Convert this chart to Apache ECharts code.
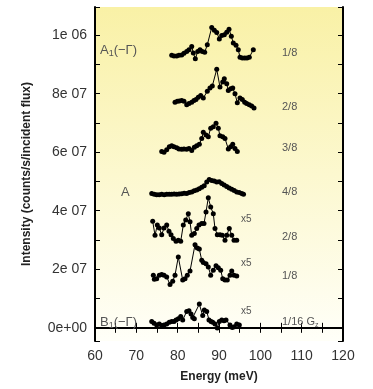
<!DOCTYPE html>
<html>
<head>
<meta charset="utf-8">
<script src="https://cdn.jsdelivr.net/npm/echarts@6/dist/echarts.min.js"></script>
<style>
  html, body { margin: 0; padding: 0; background: #ffffff; }
  #chart { width: 373px; height: 389px; }
</style>
</head>
<body>
<div id="chart"></div>
<script>
// energies in meV, intensities in units of 1e7 counts/s/incident flux
const energy1 = [78.56, 79.11, 79.77, 80.32, 80.98, 81.53, 82.19, 82.74, 83.40, 83.78, 84.27, 84.85, 85.41, 85.96, 86.54, 87.17, 88.24, 88.87, 89.45, 90.08, 90.66, 91.29, 91.87, 92.42, 92.98, 93.46, 94.12, 94.67, 95.08, 95.64, 96.22, 96.78, 97.33, 98.30];
const intensity1 = [9.31, 9.29, 9.29, 9.31, 9.32, 9.38, 9.44, 9.50, 9.61, 9.39, 9.19, 9.44, 9.50, 9.44, 9.41, 9.67, 10.26, 10.17, 10.09, 9.87, 9.99, 10.01, 10.10, 10.20, 9.96, 9.73, 9.65, 9.50, 9.24, 9.22, 9.22, 9.22, 9.24, 9.50];

const energy2 = [79.36, 79.91, 80.40, 80.98, 81.53, 82.19, 82.74, 83.40, 83.95, 84.44, 84.99, 85.57, 86.20, 87.17, 87.82, 88.38, 89.45, 90.24, 90.90, 91.28, 91.87, 92.25, 92.83, 93.32, 93.87, 94.43, 95.08, 95.64, 96.22, 96.70, 97.33, 97.91, 98.47];
const intensity2 = [7.71, 7.74, 7.75, 7.77, 7.74, 7.62, 7.66, 7.71, 7.77, 7.80, 7.88, 7.94, 7.85, 8.08, 8.19, 8.26, 8.83, 8.23, 8.40, 8.51, 8.34, 8.11, 8.17, 8.19, 8.00, 7.69, 7.85, 7.80, 7.71, 7.66, 7.62, 7.58, 7.51];

const energy3 = [76.14, 76.70, 77.35, 77.98, 78.56, 79.11, 79.77, 80.32, 80.98, 81.53, 82.19, 82.74, 83.40, 84.03, 84.61, 85.24, 85.82, 86.20, 86.86, 87.41, 87.99, 88.62, 89.28, 89.83, 90.24, 90.90, 91.45, 92.25, 92.83, 93.32, 93.87, 94.43];
const intensity3 = [6.02, 6.00, 6.08, 6.19, 6.22, 6.19, 6.15, 6.11, 6.10, 6.11, 6.10, 6.13, 6.06, 6.17, 6.22, 6.27, 6.47, 6.68, 6.59, 6.53, 6.82, 6.87, 6.99, 6.82, 6.56, 6.53, 6.47, 6.11, 6.19, 6.27, 6.13, 6.02];

const energy4 = [73.72, 74.32, 74.93, 75.53, 76.14, 76.74, 77.35, 77.95, 78.56, 79.16, 79.77, 80.37, 80.98, 81.58, 82.19, 82.79, 83.40, 84.00, 84.61, 85.21, 85.82, 86.42, 87.03, 87.63, 88.24, 88.84, 89.45, 90.05, 90.66, 91.26, 91.87, 92.47, 93.08, 93.68, 94.29, 94.89, 95.50, 95.93];
const intensity4 = [4.59, 4.56, 4.55, 4.55, 4.56, 4.55, 4.56, 4.56, 4.56, 4.57, 4.56, 4.57, 4.58, 4.60, 4.59, 4.62, 4.64, 4.68, 4.71, 4.75, 4.80, 4.85, 4.98, 5.07, 5.03, 5.02, 4.98, 4.99, 4.93, 4.88, 4.83, 4.78, 4.73, 4.69, 4.64, 4.62, 4.59, 4.56];

const energy5 = [73.96, 74.52, 75.07, 75.56, 76.14, 76.70, 77.35, 77.90, 78.39, 78.95, 79.60, 80.15, 80.74, 81.36, 81.95, 82.57, 82.99, 83.40, 84.03, 84.61, 85.16, 85.82, 86.37, 86.86, 87.41, 87.99, 88.62, 89.03, 89.59, 90.24, 90.80, 91.45, 91.87, 92.49, 93.08, 93.63, 94.29];
const intensity5 = [3.64, 3.16, 3.51, 3.41, 3.18, 3.41, 3.51, 3.30, 3.18, 3.05, 2.96, 2.99, 2.96, 3.51, 3.68, 3.90, 3.62, 3.16, 3.22, 3.39, 3.51, 3.56, 3.56, 3.96, 4.44, 4.13, 3.90, 3.39, 3.18, 3.18, 3.16, 2.99, 3.16, 3.39, 3.16, 2.99, 2.99];

const energy6 = [74.11, 74.35, 74.93, 75.56, 76.14, 76.70, 77.35, 78.15, 78.80, 79.36, 80.15, 81.22, 81.78, 82.33, 82.99, 84.20, 84.75, 85.24, 85.82, 86.20, 86.86, 87.41, 87.99, 88.62, 89.28, 89.83, 90.41, 90.90, 91.45, 92.01, 92.66, 93.08, 93.63, 94.29];
const intensity6 = [1.80, 1.66, 1.68, 1.80, 1.82, 1.80, 1.74, 1.48, 1.59, 1.80, 2.42, 1.63, 1.68, 1.80, 1.94, 2.84, 2.73, 2.69, 2.31, 2.23, 2.19, 2.08, 1.80, 1.97, 2.12, 2.05, 1.97, 1.68, 1.63, 1.63, 1.80, 1.94, 1.80, 1.77];

const energy7 = [73.72, 74.28, 74.93, 75.56, 76.14, 76.70, 77.35, 77.98, 78.56, 79.11, 79.60, 80.15, 80.74, 81.22, 82.19, 82.74, 83.23, 83.64, 84.03, 85.24, 86.06, 86.45, 87.03, 87.58, 88.07, 88.48, 89.03, 89.59, 90.08, 90.66, 91.21, 91.70, 92.66, 93.22, 93.71, 94.29, 94.92];
const intensity7 = [0.22, 0.16, 0.10, 0.13, 0.08, 0.10, 0.13, 0.19, 0.22, 0.22, 0.27, 0.31, 0.39, 0.27, 0.56, 0.58, 0.47, 0.35, 0.31, 0.81, 0.42, 0.61, 0.56, 0.27, 0.22, 0.19, 0.13, -0.01, 0.22, 0.27, 0.24, 0.27, 0.10, 0.01, 0.04, 0.13, 0.10];

const yTickLabels = ['0e+00', '2e 07', '4e 07', '6e 07', '8e 07', '1e 06'];

const curves = [
  [energy1, intensity1], [energy2, intensity2], [energy3, intensity3], [energy4, intensity4],
  [energy5, intensity5], [energy6, intensity6], [energy7, intensity7]
];

const FONT = 'Liberation Sans, Arial, sans-serif';
const chart = echarts.init(document.getElementById('chart'));

const tickCommon = {
  axisLine: { show: true, lineStyle: { color: '#000', width: 2 } },
  axisTick: { show: true, inside: true, length: 5, lineStyle: { color: '#000', width: 1 } },
  minorTick: { show: true, splitNumber: 2, length: 5, lineStyle: { color: '#000', width: 1 } },
  splitLine: { show: false },
  minorSplitLine: { show: false }
};

// annotation text anchored at its left edge, vertical middle
const sideLabel = (text, x, y, size) => ({
  type: 'text',
  x: x,
  y: y,
  z: 100,
  style: {
    text: text,
    fill: '#555',
    font: size + 'px ' + FONT,
    verticalAlign: 'middle',
    align: 'left',
    rich: {
      sub: { fontSize: size - 4, fill: '#555', fontFamily: FONT, padding: [7, 0, 0, 0] }
    }
  }
});

const option = {
  backgroundColor: '#ffffff',
  animation: false,
  grid: {
    left: 95, right: 30, top: 7, bottom: 48,
    show: true,
    borderWidth: 0,
    backgroundColor: {
      type: 'linear', x: 0, y: 0, x2: 0, y2: 1,
      colorStops: [
        { offset: 0, color: '#f9f1a6' },
        { offset: 1, color: '#fffff8' }
      ]
    }
  },
  xAxis: [
    Object.assign({
      type: 'value', position: 'bottom', min: 60, max: 120, interval: 10,
      name: 'Energy (meV)', nameLocation: 'middle', nameGap: 30,
      nameTextStyle: { color: '#222', fontFamily: FONT, fontSize: 12, fontWeight: 'bold' },
      axisLabel: { color: '#333', fontFamily: FONT, fontSize: 14, margin: 8 }
    }, tickCommon),
    Object.assign({
      type: 'value', position: 'top', min: 60, max: 120, interval: 10,
      axisLabel: { show: false }
    }, tickCommon)
  ],
  yAxis: [
    Object.assign({
      type: 'value', position: 'left', min: -0.45, max: 10.96, splitNumber: 5,
      name: 'Intensity (counts/s/incident flux)', nameLocation: 'middle', nameGap: 62,
      nameTextStyle: { color: '#222', fontFamily: FONT, fontSize: 12, fontWeight: 'bold' },
      axisLabel: {
        color: '#333', fontFamily: FONT, fontSize: 14, margin: 8,
        formatter: (v) => {
          const k = Math.round(v / 2);
          return Math.abs(v - 2 * k) < 1e-6 && yTickLabels[k] !== undefined ? yTickLabels[k] : '';
        }
      }
    }, tickCommon),
    Object.assign({
      type: 'value', position: 'right', min: -0.45, max: 10.96, splitNumber: 5,
      axisLabel: { show: false }
    }, tickCommon)
  ],
  series: curves.map(([e, v]) => ({
    type: 'line',
    xAxisIndex: 0,
    yAxisIndex: 0,
    data: e.map((x, i) => [x, v[i]]),
    symbol: 'circle',
    symbolSize: 5,
    showSymbol: true,
    lineStyle: { color: '#000', width: 1 },
    itemStyle: { color: '#000' }
  })),
  graphic: [
    sideLabel('A{sub|1}(−Γ)', 100, 50, 13),
    sideLabel('A', 121, 192, 13),
    sideLabel('B{sub|1}(−Γ)', 100, 322, 13),
    sideLabel('1/8', 282, 53, 11),
    sideLabel('2/8', 282, 107, 11),
    sideLabel('3/8', 282, 148, 11),
    sideLabel('4/8', 282, 192, 11),
    sideLabel('x5', 241, 219, 10),
    sideLabel('2/8', 282, 237, 11),
    sideLabel('x5', 241, 263, 10),
    sideLabel('1/8', 282, 276, 11),
    sideLabel('x5', 241, 311, 10),
    sideLabel('1/16 G{sub|z}', 282, 322, 11)
  ]
};

chart.setOption(option);
</script>
</body>
</html>
